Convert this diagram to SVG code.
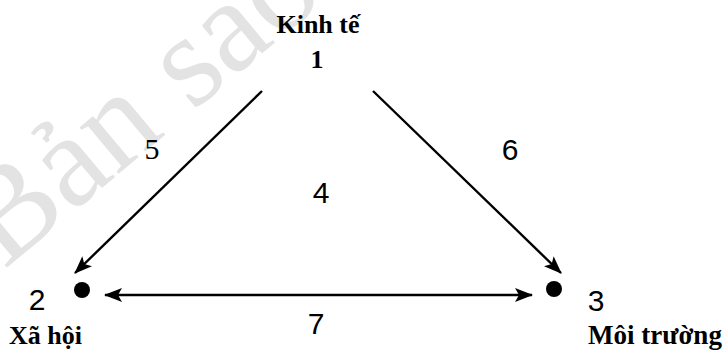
<svg xmlns="http://www.w3.org/2000/svg" width="724" height="350" viewBox="0 0 724 350">
<style>
.lbl{font-family:"Liberation Serif","Times New Roman",serif;font-weight:bold;font-size:26px;fill:#000}
.num{font-family:"Liberation Sans",Arial,sans-serif;font-size:30px;fill:#000}
.edge{stroke:#000;stroke-width:2.4;fill:none}
.wm{font-family:"Liberation Serif","Times New Roman",serif;font-size:132px;fill:#e3e3e3}
</style>
<defs>
<marker id="ah" viewBox="0 0 18 14" refX="17" refY="7" markerWidth="18" markerHeight="14" markerUnits="userSpaceOnUse" orient="auto-start-reverse">
<path d="M0,0 L18,7 L0,14 L4,7 Z" fill="#000"/>
</marker>
</defs>
<rect width="724" height="350" fill="#fff"/>
<text class="wm" transform="translate(4,270) rotate(-40)">Bản sao</text>
<g id="n1">
<text class="lbl" x="318" y="33" text-anchor="middle">Kinh tế</text>
<text class="lbl" x="317" y="68" text-anchor="middle">1</text>
</g>
<g id="n2">
<circle cx="82" cy="290" r="8" fill="#000"/>
<text class="num" x="37" y="310" text-anchor="middle">2</text>
<text class="lbl" x="9" y="344">Xã hội</text>
</g>
<g id="n3">
<circle cx="554" cy="289" r="8" fill="#000"/>
<text class="num" x="596" y="311" text-anchor="middle">3</text>
<text class="lbl" x="588" y="344" style="font-size:27px">Môi trường</text>
</g>
<g id="n4">
<text class="num" x="321" y="203" text-anchor="middle">4</text>
</g>
<g id="connectors">
<line class="edge" x1="262" y1="91" x2="75" y2="273" marker-end="url(#ah)"/>
<line class="edge" x1="373" y1="91" x2="561" y2="273" marker-end="url(#ah)"/>
<line class="edge" x1="105" y1="295" x2="532" y2="295" marker-start="url(#ah)" marker-end="url(#ah)"/>
<text class="num" x="152" y="159" text-anchor="middle" style="font-family:'Liberation Serif',serif">5</text>
<text class="num" x="510" y="160" text-anchor="middle">6</text>
<text class="num" x="316" y="334" text-anchor="middle">7</text>
</g>
</svg>
